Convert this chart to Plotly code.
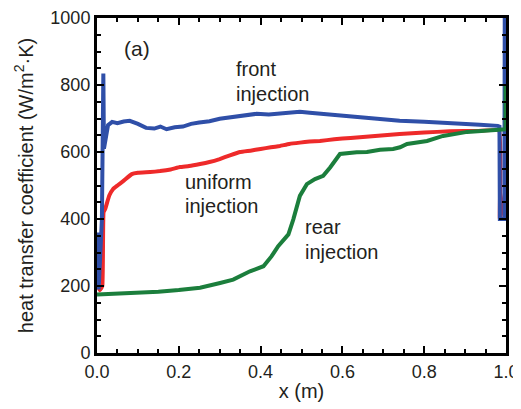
import plotly.graph_objects as go

# front injection (blue)
front_x = [0.001, 0.004, 0.012, 0.0155, 0.017, 0.02, 0.027, 0.037, 0.05, 0.065, 0.08, 0.1, 0.12, 0.14, 0.155,
           0.17, 0.19, 0.21, 0.23, 0.25, 0.275, 0.30, 0.33, 0.36, 0.39, 0.42, 0.455, 0.496, 0.52, 0.545,
           0.58, 0.62, 0.68, 0.74, 0.80, 0.863, 0.936, 0.98, 0.984, 0.985, 0.996, 0.997]
front_y = [360, 190, 400, 834, 610, 630, 680, 690, 686, 691, 693, 684, 672, 670, 676,
           668, 674, 676, 684, 688, 692, 699, 703, 708, 714, 712, 716, 720, 717, 714,
           710, 705, 699, 693, 690, 687, 681, 678, 676, 400, 400, 1050]

# uniform injection (red)
uni_x = [0.003, 0.008, 0.013, 0.016, 0.02, 0.03, 0.039, 0.05, 0.064, 0.085, 0.1, 0.13, 0.154, 0.18, 0.203,
         0.225, 0.252, 0.275, 0.30, 0.325, 0.35, 0.375, 0.40, 0.425, 0.447, 0.47, 0.496, 0.52, 0.545, 0.58,
         0.62, 0.68, 0.74, 0.80, 0.863, 0.93, 0.983, 0.985, 0.998, 1.0]
uni_y = [185, 190, 200, 420, 430, 470, 489, 500, 513, 534, 538, 540, 543, 548, 555,
         558, 564, 570, 579, 590, 600, 604, 609, 614, 618, 624, 628, 631, 633, 638,
         642, 648, 654, 658, 662, 663, 664, 400, 480, 490]

# rear injection (green)
rear_x = [0.0, 0.05, 0.1, 0.15, 0.2, 0.252, 0.301, 0.333, 0.374, 0.407, 0.427, 0.443, 0.468, 0.48, 0.496,
          0.513, 0.533, 0.553, 0.57, 0.594, 0.635, 0.66, 0.692, 0.724, 0.741, 0.758, 0.807, 0.846, 0.905,
          0.936, 0.97, 0.995, 0.999, 0.999]
rear_y = [175, 177, 179, 183, 188, 195, 209, 219, 244, 259, 289, 319, 354, 399, 469,
          504, 519, 529, 554, 594, 599, 600, 607, 609, 614, 624, 633, 648, 660,
          663, 664, 666, 668, 800]

x_ticks = [0.0, 0.2, 0.4, 0.6, 0.8, 1.0]
y_ticks = [0, 200, 400, 600, 800, 1000]

FONT = "Arial, Liberation Sans, Helvetica, sans-serif"
TXT = "#231f20"

fig = go.Figure()
fig.add_trace(go.Scatter(x=uni_x, y=uni_y, mode="lines", line=dict(color="#ee2a2a", width=4, shape="spline", smoothing=0.3)))
fig.add_trace(go.Scatter(x=front_x, y=front_y, mode="lines", line=dict(color="#2f4fa8", width=4)))
fig.add_trace(go.Scatter(x=rear_x, y=rear_y, mode="lines", line=dict(color="#1b7e3c", width=4)))

annots = [
    dict(x=0.061, y=909, text="(a)", size=21),
    dict(x=0.335, y=849, text="front", size=20),
    dict(x=0.335, y=774, text="injection", size=20),
    dict(x=0.210, y=510, text="uniform", size=20),
    dict(x=0.210, y=438, text="injection", size=20),
    dict(x=0.504, y=375, text="rear", size=20),
    dict(x=0.504, y=303, text="injection", size=20),
]
for a in annots:
    fig.add_annotation(x=a["x"], y=a["y"], text=a["text"], showarrow=False, xanchor="left", yanchor="middle",
                       align="left", font=dict(family=FONT, size=a["size"], color=TXT))

axis_common = dict(showline=True, linewidth=3, linecolor="black", mirror="allticks", ticks="inside",
                   ticklen=7, tickwidth=2, tickcolor="black", showgrid=False, zeroline=False,
                   automargin=False, tickfont=dict(family=FONT, size=18, color=TXT))

fig.update_xaxes(range=[0, 1.0], tickvals=x_ticks, tickformat=".1f",
                 minor=dict(ticks="inside", dtick=0.05, ticklen=4, tickwidth=2, tickcolor="black"),
                 title=dict(text="x (m)", font=dict(family=FONT, size=20, color=TXT), standoff=4),
                 **axis_common)
fig.update_yaxes(range=[0, 1000], tickvals=y_ticks,
                 minor=dict(ticks="inside", dtick=50, ticklen=4, tickwidth=2, tickcolor="black"),
                 title=dict(text="heat transfer coefficient (W/m<sup>2</sup>·K)",
                            font=dict(family=FONT, size=20, color=TXT), standoff=12),
                 **axis_common)

# page body adds an 8px offset, so the figure is sized to fit the 521x409 window
fig.update_layout(width=513, height=401, margin=dict(l=89, r=15, t=10, b=56),
                  plot_bgcolor="white", paper_bgcolor="white", showlegend=False)

fig.write_html("out.html")
